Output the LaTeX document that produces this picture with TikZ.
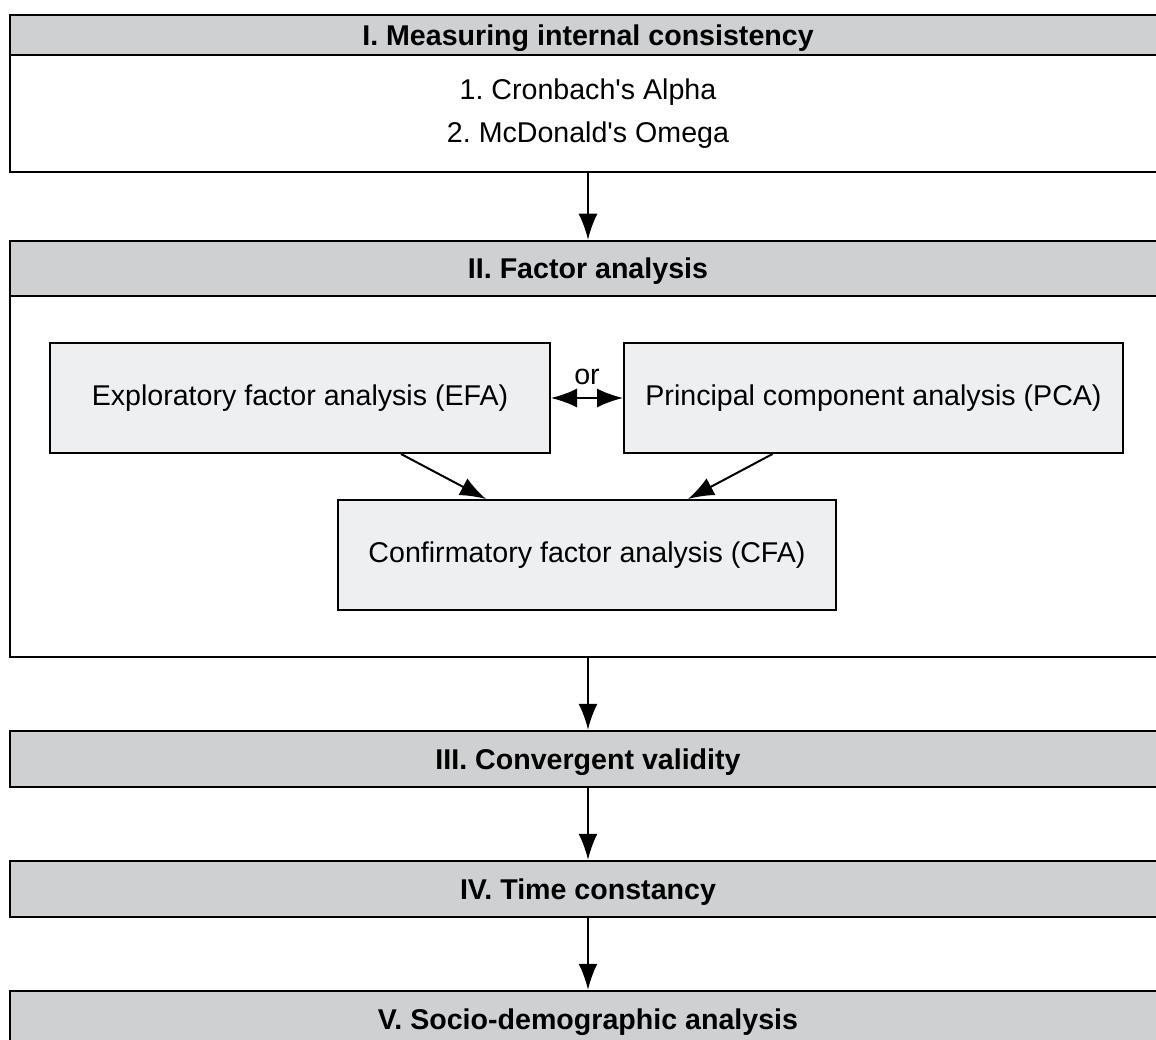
\documentclass[tikz,border=0pt]{standalone}
\usepackage{xcolor}
\usepackage{tikz}
\usetikzlibrary{arrows.meta}
\usepackage{fontspec}
\setmainfont{Liberation Sans}
\definecolor{grisentete}{RGB}{207,208,210}
\definecolor{grisboite}{RGB}{238,239,241}
\frenchspacing

\begin{document}
\begin{tikzpicture}[x=1pt,y=-1pt,font=\fontsize{28.6}{43}\selectfont]
% Styles (MODIFIABLES)
\tikzstyle{fleche}=[->,>={Latex[length=26pt,width=19pt]},line width=2pt]
\tikzstyle{entete}=[fill=grisentete,draw,line width=2.5pt,minimum width=1156pt,inner sep=0pt,text depth=0pt,font=\fontsize{28.6}{43}\selectfont\bfseries]
\tikzstyle{corps}=[fill=white,draw,line width=2.5pt,minimum width=1156pt,inner sep=0pt,align=center]
\tikzstyle{boite}=[fill=grisboite,draw,line width=2pt,minimum height=110pt,inner sep=0pt]
\tikzstyle{etiquette}=[above,black]
% Dimensions (MODIFIABLES)
\def\Centre{588}
\def\Ecart{101}
% Cadre
\useasboundingbox (0,0) rectangle (1156,1040);
\clip (0,0) rectangle (1156,1040);
% Noeuds (MODIFIABLES)
\node[entete,minimum height=40pt] (hI) at (\Centre,35) {I. Measuring internal consistency};
\node[corps,minimum height=117pt] (bI) at (\Centre,113.5) {1. Cronbach\textquotesingle s Alpha\\2. McDonald\textquotesingle s Omega};
\node[entete,minimum height=55pt] (hII) at (\Centre,268.5) {II. Factor analysis};
\node[corps,minimum height=361pt] (bII) at (\Centre,476.5) {};
\node[boite,minimum width=500pt] (efa) at (300,398) {Exploratory factor analysis (EFA)};
\node[boite,minimum width=499pt] (pca) at (873.5,398) {Principal component analysis (PCA)};
\node[boite,minimum width=498pt] (cfa) at (587,555) {Confirmatory factor analysis (CFA)};
\node[entete,minimum height=56pt] (hIII) at (\Centre,759) {III. Convergent validity};
\node[entete,minimum height=56pt] (hIV) at (\Centre,889) {IV. Time constancy};
\node[entete,minimum height=56pt] (hV) at (\Centre,1019) {V. Socio-demographic analysis};
% Arcs (MODIFIABLES : Styles)
\draw[fleche] (bI)--(hII);
\draw[fleche,<->] (efa)--(pca) node[etiquette,midway,yshift=9pt] {or};
\draw[fleche] ([xshift=\Ecart pt]efa.south)--([xshift=-\Ecart pt]cfa.north);
\draw[fleche] ([xshift=-\Ecart pt]pca.south)--([xshift=\Ecart pt]cfa.north);
\draw[fleche] (bII)--(hIII);
\draw[fleche] (hIII)--(hIV);
\draw[fleche] (hIV)--(hV);
\end{tikzpicture}
\end{document}
